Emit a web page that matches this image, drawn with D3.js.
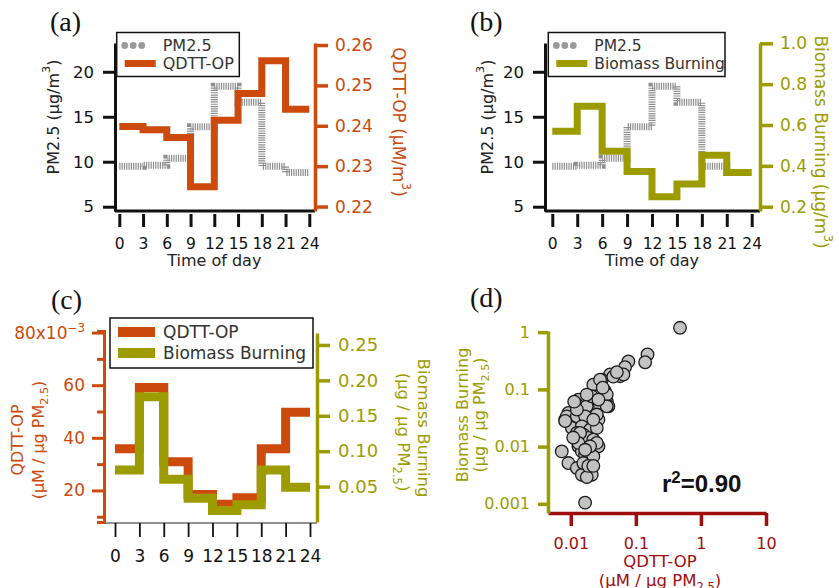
<!DOCTYPE html>
<html><head><meta charset="utf-8">
<script src="https://cdn.jsdelivr.net/npm/d3@7"></script>
<style>body{margin:0;background:#fff} svg{display:block}</style>
</head><body><svg id="c" width="839" height="588"></svg>
<script>
// ---------------- DATA ----------------
const hours = [0, 3, 6, 9, 12, 15, 18, 21];
const hourTicks = [0, 3, 6, 9, 12, 15, 18, 21, 24];
const pm25 = [9.5, 9.6, 10.4, 13.9, 18.4, 16.6, 9.5, 8.8];
const qdttOP = [0.2398, 0.2390, 0.2371, 0.2249, 0.2414, 0.2480, 0.2561, 0.2441];
const biomass = [0.569, 0.692, 0.471, 0.372, 0.249, 0.311, 0.452, 0.367];
const qdttPerPM = [0.0358, 0.0591, 0.0309, 0.0185, 0.0147, 0.0172, 0.0358, 0.0497];
const biomassPerPM = [0.0736, 0.177, 0.0604, 0.0336, 0.0161, 0.0242, 0.0736, 0.049];
const leftTicksAB = [5, 10, 15, 20];
const qdttTicks = [0.22, 0.23, 0.24, 0.25, 0.26];
const biomassTicks = [0.2, 0.4, 0.6, 0.8, 1.0];
const cLeftMajor = [0.02, 0.04, 0.06, 0.08];
const cLeftMinor = [0.01, 0.03, 0.05, 0.07];
const cRightTicks = [0.05, 0.10, 0.15, 0.20, 0.25];
const dXTicks = [0.01, 0.1, 1, 10];
const dYTicks = [0.001, 0.01, 0.1, 1];
const scatterQdtt = [0.477,0.151,0.139,0.0767,0.0682,0.0572,0.0402,0.0643,0.0299,0.0266,
  0.0222,0.0336,0.0251,0.0357,0.0198,0.0131,0.0124,0.0210,0.0176,0.0378,
  0.0092,0.0082,0.0087,0.0124,0.0166,0.0266,0.0104,0.0148,0.0198,0.0251,
  0.0124,0.0156,0.0131,0.0186,0.0222,0.0131,0.0198,0.0266,0.0148,0.0166,
  0.0222,0.00727,0.00919,0.0124,0.0176,0.0148,0.0210,0.0176,0.0166,
  0.0282,0.0357,0.0282,0.0357,0.0124,0.0139,0.0251,0.0131,0.0198,0.0082,
  0.0156,0.0186,0.0222,0.0251,0.0222,0.0210,0.0266,0.0176,0.031,0.045,
  0.051,0.0166,0.0109,0.0113];
const scatterBiomass = [1.19,0.407,0.298,0.307,0.244,0.170,0.182,0.182,0.148,0.106,
  0.121,0.0926,0.0757,0.0619,0.0663,0.0663,0.0542,0.0443,0.0506,0.0506,
  0.0388,0.0296,0.0338,0.0338,0.0338,0.0296,0.0212,0.0226,0.0198,0.0212,
  0.0173,0.0162,0.0132,0.0142,0.0132,0.0101,0.0101,0.0101,0.00824,0.00721,
  0.00674,0.00824,0.00516,0.00422,0.00422,0.00322,0.00322,0.00293,0.00105,
  0.148,0.0811,0.0506,0.0506,0.0443,0.0173,0.0116,0.0116,0.0101,0.028,
  0.00516,0.0046,0.0046,0.0363,0.0296,0.0757,0.0663,0.0811,0.107,0.167,
  0.2,0.0088,0.0144,0.061];

// ---------------- STYLE ----------------
const ORANGE = "#cc4a0c", OLIVE = "#9c9c00", DARKRED = "#a00d0d", GRAY = "#8e8e8e", INK = "#222";
const FONT = '"DejaVu Sans", sans-serif';
const SERIF = '"Liberation Serif", "Times New Roman", serif';

const svg = d3.select("#c");
svg.append("rect").attr("width", 839).attr("height", 588).attr("fill", "#fff");

function steps(vals) {
  const d = hours.map((h, i) => [h, vals[i]]);
  d.push([24, vals[vals.length - 1]]);
  return d;
}
function stepPath(x, y) {
  return d3.line().x(d => x(d[0])).y(d => y(d[1])).curve(d3.curveStepAfter);
}
function styleAxis(g, color, width, size, tickColor) {
  g.attr("font-family", FONT).attr("font-size", size);
  g.select(".domain").attr("stroke", color).attr("stroke-width", width);
  g.selectAll(".tick line").attr("stroke", tickColor || color).attr("stroke-width", width);
  g.selectAll(".tick text").attr("fill", color);
}
function rich(parent, parts, attrs) {
  const t = parent.append("text").attr("font-family", FONT);
  Object.entries(attrs).forEach(([k, v]) => t.attr(k, v));
  parts.forEach(p => {
    const s = typeof p === "string" ? p : p[0];
    const kind = typeof p === "string" ? null : p[1];
    const ts = t.append("tspan").text(s);
    if (kind === "sup") ts.attr("baseline-shift", "super").attr("font-size", "70%");
    if (kind === "sub") ts.attr("baseline-shift", "sub").attr("font-size", "70%");
  });
  return t;
}
function vtitle(parent, parts, x, y, angle, color, size) {
  return rich(parent, parts, {
    transform: `translate(${x},${y}) rotate(${angle})`, "text-anchor": "middle",
    "dominant-baseline": "central", fill: color, "font-size": size
  });
}

// ---------------- PANELS (a) and (b) ----------------
function topPanel(cfg) {
  const g = svg.append("g");
  const x = d3.scaleLinear().domain([0, 24]).range(cfg.xRange);
  const yL = d3.scaleLinear().domain([4.5, 23.2]).range([211.2, 43]);
  const yR = d3.scaleLinear().domain(cfg.rDomain).range([211, 43]);

  g.append("path").datum(steps(pm25)).attr("d", stepPath(x, yL))
    .attr("fill", "none").attr("stroke", GRAY).attr("stroke-width", 7).attr("stroke-dasharray", "1.2 1.1");
  g.append("path").datum(steps(cfg.vals)).attr("d", stepPath(x, yR))
    .attr("fill", "none").attr("stroke", cfg.color).attr("stroke-width", 7);

  g.append("line").attr("x1", cfg.axL).attr("x2", cfg.axR).attr("y1", 211).attr("y2", 211)
    .attr("stroke", "#111").attr("stroke-width", 3);

  const ax = g.append("g").attr("transform", "translate(0,214)")
    .call(d3.axisBottom(x).tickValues(hourTicks).tickSize(13).tickPadding(11).tickSizeOuter(0));
  ax.select(".domain").remove();
  styleAxis(ax, "#111", 3, 15.5);

  const al = g.append("g").attr("transform", `translate(${cfg.axL},0)`)
    .call(d3.axisLeft(yL).tickValues(leftTicksAB).tickSize(12).tickPadding(9).tickSizeOuter(0));
  styleAxis(al, "#111", 3, 16.5);

  const ar = g.append("g").attr("transform", `translate(${cfg.axR},0)`)
    .call(d3.axisRight(yR).tickValues(cfg.rTicks).tickFormat(d3.format(cfg.rFmt)).tickSize(13).tickPadding(7).tickSizeOuter(0));
  styleAxis(ar, cfg.color, 3.5, 17);

  vtitle(g, ["PM2.5 (μg/m", ["3", "sup"], ")"], cfg.lTitleX, 117, -90, INK, 16);
  vtitle(g, cfg.rTitle, cfg.rTitleX, cfg.rTitleY, 90, cfg.color, 17);

  g.append("text").attr("x", (cfg.xRange[0] + cfg.xRange[1]) / 2).attr("y", 266)
    .attr("text-anchor", "middle").attr("font-family", FONT).attr("font-size", 16).attr("fill", INK)
    .text("Time of day");

  // legend
  const lg = g.append("g");
  lg.append("rect").attr("x", cfg.leg[0]).attr("y", 32.5).attr("width", cfg.leg[1]).attr("height", 44)
    .attr("fill", "#fff").attr("stroke", "#111").attr("stroke-width", 1.5);
  [0, 1, 2].forEach(i => lg.append("circle").attr("cx", cfg.leg[0] + 8 + i * 8.5).attr("cy", 45.5)
    .attr("r", 3.4).attr("fill", "#9a9a9a"));
  lg.append("line").attr("x1", cfg.leg[0] + 8).attr("x2", cfg.leg[0] + 39).attr("y1", 63.5).attr("y2", 63.5)
    .attr("stroke", cfg.color).attr("stroke-width", 7);
  lg.append("text").attr("x", cfg.leg[0] + 46).attr("y", 45.5).attr("dominant-baseline", "central")
    .attr("font-family", FONT).attr("font-size", cfg.legSize).attr("fill", "#333").text("PM2.5");
  lg.append("text").attr("x", cfg.leg[0] + 46).attr("y", 63.5).attr("dominant-baseline", "central")
    .attr("font-family", FONT).attr("font-size", cfg.legSize).attr("fill", "#333").text(cfg.name);

  g.append("text").attr("x", cfg.labelX).attr("y", 31).attr("font-family", SERIF).attr("font-size", 28)
    .attr("fill", "#111").text(cfg.label);
}

topPanel({
  xRange: [119.3, 309.3], axL: 115, axR: 315, rDomain: [0.2189, 0.2605], rTicks: qdttTicks, rFmt: ".2f",
  vals: qdttOP, color: ORANGE, name: "QDTT-OP", lTitleX: 53,
  rTitle: ["QDTT-OP (μM/m", ["3", "sup"], ")"], rTitleX: 399, rTitleY: 122,
  leg: [116.7, 122.6], legSize: 16, label: "(a)", labelX: 50
});
topPanel({
  xRange: [552.3, 751.7], axL: 545, axR: 760, rDomain: [0.179, 1.0015], rTicks: biomassTicks, rFmt: ".1f",
  vals: biomass, color: OLIVE, name: "Biomass Burning", lTitleX: 487,
  rTitle: ["Biomass Burning (μg/m", ["3", "sup"], ")"], rTitleX: 821, rTitleY: 142,
  leg: [548.3, 176.7], legSize: 15.5, label: "(b)", labelX: 470
});

// ---------------- PANEL (c) ----------------
(function () {
  const g = svg.append("g");
  const x = d3.scaleLinear().domain([0, 24]).range([115, 310]);
  const yL = d3.scaleLinear().domain([0.008, 0.0806]).range([522, 331]);
  const yR = d3.scaleLinear().domain([0, 0.2669]).range([522, 333]);

  g.append("path").datum(steps(qdttPerPM)).attr("d", stepPath(x, yL))
    .attr("fill", "none").attr("stroke", ORANGE).attr("stroke-width", 9);
  g.append("path").datum(steps(biomassPerPM)).attr("d", stepPath(x, yR))
    .attr("fill", "none").attr("stroke", OLIVE).attr("stroke-width", 9);

  g.append("line").attr("x1", 104).attr("x2", 317).attr("y1", 523).attr("y2", 523)
    .attr("stroke", "#222").attr("stroke-width", 1);
  const ax = g.append("g").attr("transform", "translate(0,523)")
    .call(d3.axisBottom(x).tickValues(hourTicks).tickSize(14).tickPadding(13).tickSizeOuter(0));
  ax.select(".domain").remove();
  styleAxis(ax, "#111", 1.8, 17);

  const alm = g.append("g").attr("transform", "translate(104,0)")
    .call(d3.axisLeft(yL).tickValues(cLeftMinor).tickSize(7).tickFormat(""));
  styleAxis(alm, ORANGE, 3, 17);
  const al = g.append("g").attr("transform", "translate(104,0)")
    .call(d3.axisLeft(yL).tickValues(cLeftMajor).tickSize(12).tickPadding(7).tickSizeOuter(0)
      .tickFormat(d => d3.format("d")(d * 1000)));
  styleAxis(al, ORANGE, 3, 17);
  al.selectAll(".tick text").filter(d => Math.abs(d - 0.08) < 1e-9).each(function (d) {
    const t = d3.select(this);
    t.text(null);
    t.append("tspan").text(d3.format("d")(d * 1000) + "x10");
    t.append("tspan").attr("baseline-shift", "super").attr("font-size", "70%").text("−3");
  });
  const ar = g.append("g").attr("transform", "translate(317,0)")
    .call(d3.axisRight(yR).tickValues(cRightTicks).tickFormat(d3.format(".2f")).tickSize(13).tickPadding(8).tickSizeOuter(0));
  styleAxis(ar, OLIVE, 3.5, 18);

  vtitle(g, ["QDTT-OP"], 17, 440, -90, ORANGE, 16);
  vtitle(g, ["(μM / μg PM", ["2.5", "sub"], ")"], 38, 440, -90, ORANGE, 16);
  vtitle(g, ["(μg / μg PM", ["2.5", "sub"], ")"], 404, 432, 90, OLIVE, 16.5);
  vtitle(g, ["Biomass Burning"], 424, 428, 90, OLIVE, 16.5);

  const lg = g.append("g");
  lg.append("rect").attr("x", 110).attr("y", 318).attr("width", 203).attr("height", 50)
    .attr("fill", "#fff").attr("stroke", "#111").attr("stroke-width", 1.5);
  lg.append("line").attr("x1", 118).attr("x2", 155).attr("y1", 332).attr("y2", 332)
    .attr("stroke", ORANGE).attr("stroke-width", 10);
  lg.append("line").attr("x1", 118).attr("x2", 155).attr("y1", 353).attr("y2", 353)
    .attr("stroke", OLIVE).attr("stroke-width", 10);
  lg.append("text").attr("x", 163).attr("y", 332).attr("dominant-baseline", "central")
    .attr("font-family", FONT).attr("font-size", 17).attr("fill", "#333").text("QDTT-OP");
  lg.append("text").attr("x", 163).attr("y", 353).attr("dominant-baseline", "central")
    .attr("font-family", FONT).attr("font-size", 17).attr("fill", "#333").text("Biomass Burning");

  g.append("text").attr("x", 51).attr("y", 309).attr("font-family", SERIF).attr("font-size", 28)
    .attr("fill", "#111").text("(c)");
})();

// ---------------- PANEL (d) ----------------
(function () {
  const g = svg.append("g");
  const x = d3.scaleLog().domain([Math.pow(10, -2.35), 10]).range([548, 766]);
  const y = d3.scaleLog().domain([Math.pow(10, -3.16), Math.pow(10, 0.02)]).range([513, 331]);

  const pts = scatterQdtt.map((q, i) => [q, scatterBiomass[i]]);
  g.selectAll("circle.pt").data(pts).join("circle").attr("class", "pt")
    .attr("cx", d => x(d[0])).attr("cy", d => y(d[1])).attr("r", 6.3)
    .attr("fill", "#c2c2c2").attr("stroke", "#1a1a1a").attr("stroke-width", 1.3);

  const ax = g.append("g").attr("transform", "translate(0,513)")
    .call(d3.axisBottom(x).tickValues(dXTicks).tickFormat(d3.format("~g")).tickSize(13).tickPadding(12).tickSizeOuter(0));
  styleAxis(ax, DARKRED, 3.5, 16);
  const ay = g.append("g").attr("transform", "translate(548,0)")
    .call(d3.axisLeft(y).tickValues(dYTicks).tickFormat(d3.format("~g")).tickSize(10).tickPadding(8).tickSizeOuter(0));
  styleAxis(ay, OLIVE, 3.5, 16);

  g.append("text").attr("x", 660).attr("y", 561).attr("text-anchor", "middle").attr("dominant-baseline", "central")
    .attr("font-family", FONT).attr("font-size", 16.5).attr("fill", DARKRED).text("QDTT-OP");
  rich(g, ["(μM / μg PM", ["2.5", "sub"], ")"], {
    x: 660, y: 580, "text-anchor": "middle", "dominant-baseline": "central", fill: DARKRED, "font-size": 16.5
  });
  vtitle(g, ["Biomass Burning"], 462, 415, -90, OLIVE, 16);
  vtitle(g, ["(μg / μg PM", ["2.5", "sub"], ")"], 479, 415, -90, OLIVE, 16);

  rich(g, ["r", ["2", "sup"], "=0.90"], {
    x: 662, y: 492, fill: "#111", "font-size": 24, "font-weight": "bold"
  }).attr("font-family", '"Liberation Sans", Arial, sans-serif');

  g.append("text").attr("x", 470).attr("y", 307).attr("font-family", SERIF).attr("font-size", 28)
    .attr("fill", "#111").text("(d)");
})();
</script></body></html>
